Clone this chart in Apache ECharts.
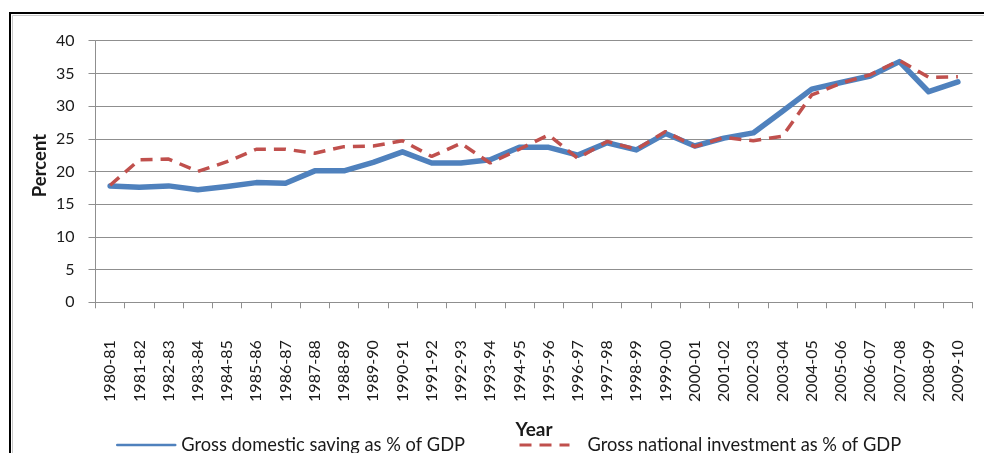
<!DOCTYPE html>
<html>
<head>
<meta charset="utf-8">
<script src="https://cdn.jsdelivr.net/npm/echarts@6/dist/echarts.min.js"></script>
<style>
  html, body { margin: 0; padding: 0; background: #fff; }
  #chart { width: 984px; height: 453px; }
</style>
</head>
<body>
<div id="chart"></div>
<script>
// Fiscal years
const years = [
  '1980-81','1981-82','1982-83','1983-84','1984-85','1985-86','1986-87','1987-88',
  '1988-89','1989-90','1990-91','1991-92','1992-93','1993-94','1994-95','1995-96',
  '1996-97','1997-98','1998-99','1999-00','2000-01','2001-02','2002-03','2003-04',
  '2004-05','2005-06','2006-07','2007-08','2008-09','2009-10'
];

// Gross domestic saving, % of GDP
const savingPct = [
  17.8, 17.6, 17.8, 17.2, 17.7, 18.3, 18.2, 20.1, 20.1, 21.4,
  23.0, 21.3, 21.3, 21.8, 23.7, 23.7, 22.5, 24.4, 23.3, 25.8,
  23.9, 25.1, 25.9, 29.2, 32.6, 33.6, 34.6, 36.8, 32.2, 33.7
];

// Gross national investment, % of GDP
const investmentPct = [
  17.9, 21.8, 21.9, 20.0, 21.5, 23.4, 23.4, 22.8, 23.8, 23.9,
  24.7, 22.3, 24.3, 21.3, 23.4, 25.6, 22.0, 24.6, 23.4, 26.1,
  23.8, 25.2, 24.7, 25.4, 31.7, 33.5, 34.8, 37.0, 34.4, 34.5
];

const yTicks = { min: 0, max: 40, interval: 5 };

const FONT = 'Lato';
const TEXT = '#1a1a1a';
const GRID = '#8f8f8f';

const chart = echarts.init(document.getElementById('chart'), null, { renderer: 'canvas' });

chart.setOption({
  backgroundColor: '#ffffff',
  animation: false,
  graphic: [
    // chart frame
    { type: 'rect', shape: { x: 10, y: 13, width: 1000, height: 500 },
      style: { fill: 'none', stroke: '#000', lineWidth: 2 }, silent: true },
    { type: 'rect', shape: { x: 12.5, y: 15.5, width: 1000, height: 500 },
      style: { fill: 'none', stroke: '#c8c8c8', lineWidth: 1 }, silent: true }
  ],
  grid: { left: 95.5, right: 11.5, top: 40.7, bottom: 150.7, containLabel: false },
  legend: [
    {
      data: ['Gross domestic saving as % of GDP'],
      left: 116, top: 436, padding: 0,
      itemWidth: 58, itemHeight: 16,
      lineStyle: { width: 2.5 },
      itemStyle: { opacity: 0 },
      textStyle: { fontFamily: FONT, fontSize: 18.3, color: TEXT, padding: [0, 0, 0, 1] }
    },
    {
      data: ['Gross national investment as % of GDP'],
      left: 518, top: 436, padding: 0,
      itemWidth: 50, itemHeight: 16,
      lineStyle: { width: 3 },
      itemStyle: { opacity: 0 },
      textStyle: { fontFamily: FONT, fontSize: 18.3, color: TEXT, padding: [0, 0, 0, 13] }
    }
  ],
  xAxis: {
    type: 'category',
    data: years,
    boundaryGap: true,
    name: 'Year',
    nameLocation: 'middle',
    nameGap: 118,
    nameMoveOverlap: false,
    nameTextStyle: { fontFamily: FONT, fontSize: 19, fontWeight: 'bold', color: TEXT },
    axisLine: { lineStyle: { color: GRID, width: 1 } },
    axisTick: { show: true, alignWithLabel: false, length: 6, lineStyle: { color: GRID } },
    axisLabel: { rotate: 90, margin: 38, interval: 0, fontFamily: FONT, fontSize: 16, color: TEXT },
    splitLine: { show: false }
  },
  yAxis: {
    type: 'value',
    min: yTicks.min, max: yTicks.max, interval: yTicks.interval,
    name: 'Percent',
    nameLocation: 'middle',
    nameGap: 46,
    nameMoveOverlap: false,
    nameRotate: 90,
    nameTextStyle: { fontFamily: FONT, fontSize: 18.5, fontWeight: 'bold', color: TEXT, padding: [0, 0, 0, 12] },
    axisLine: { show: true, lineStyle: { color: GRID, width: 1 } },
    axisTick: { show: true, length: 7, lineStyle: { color: GRID } },
    axisLabel: { margin: 21, fontFamily: FONT, fontSize: 16, color: TEXT },
    splitLine: { show: true, lineStyle: { color: GRID, width: 1 } }
  },
  series: [
    {
      name: 'Gross domestic saving as % of GDP',
      type: 'line',
      data: savingPct,
      symbol: 'none',
      color: '#4f81bd',
      lineStyle: { color: '#4f81bd', width: 5.5, join: 'round', cap: 'round' },
      z: 2
    },
    {
      name: 'Gross national investment as % of GDP',
      type: 'line',
      data: investmentPct,
      symbol: 'none',
      color: '#c0504d',
      lineStyle: { color: '#c0504d', width: 3.5, type: [12, 8] },
      z: 3
    }
  ]
});
</script>
</body>
</html>
